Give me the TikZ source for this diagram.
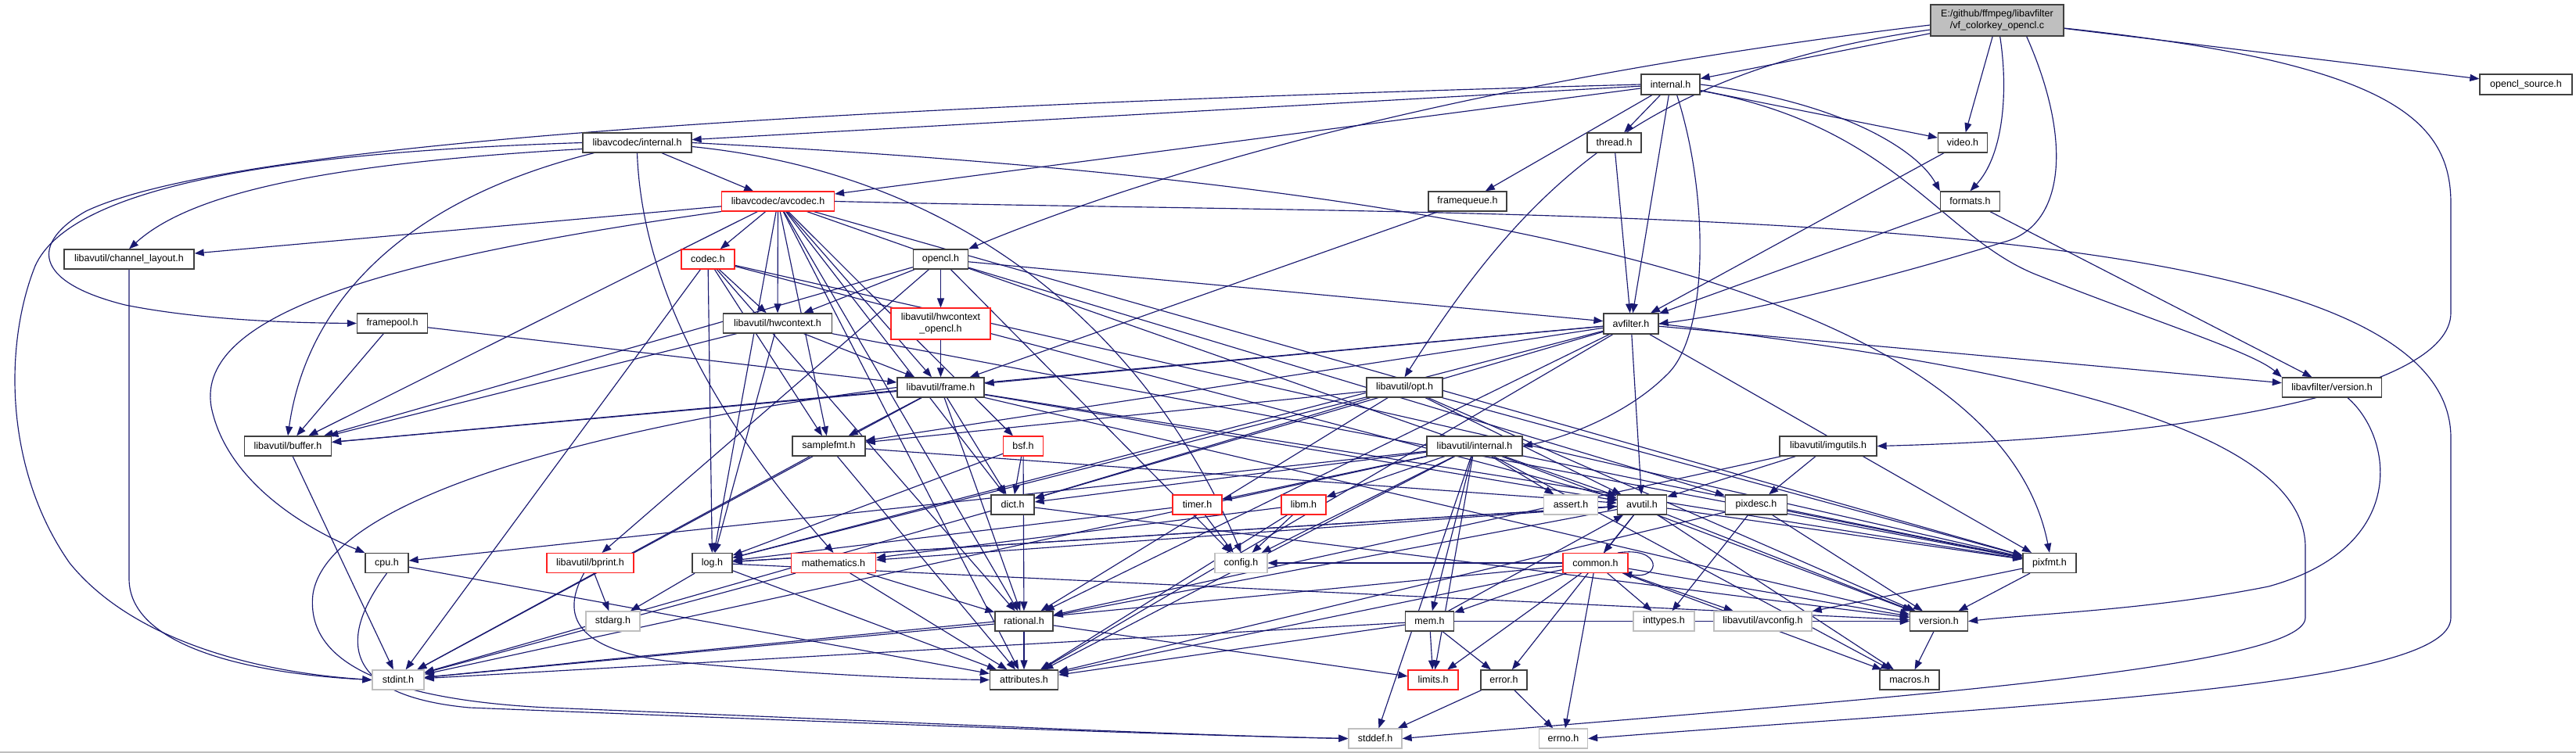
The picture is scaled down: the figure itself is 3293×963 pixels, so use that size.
\documentclass[tikz,border=0pt]{standalone}
\usepackage{fontspec}
\setmainfont{Liberation Sans}
\usetikzlibrary{arrows.meta}
\definecolor{edgec}{HTML}{191970}
\definecolor{redb}{HTML}{FF2020}
\definecolor{grayb}{HTML}{BFBFBF}
\definecolor{darkb}{HTML}{404040}
\definecolor{mainfill}{HTML}{BFBFBF}
\pgfdeclarelayer{bg}
\pgfsetlayers{bg,main}
\begin{document}
\begin{tikzpicture}[x=1pt,y=-1pt,
  nd/.style={draw=darkb,line width=1.3pt,fill=white,inner sep=0pt,font=\fontsize{12.5}{15}\selectfont,minimum height=25pt,text=black,align=center},
  rd/.style={nd,draw=redb,line width=1.1pt},
  gr/.style={nd,draw=grayb},
  e/.style={draw=edgec,line width=1.15pt,-{Triangle[length=12pt,width=9pt]}},
]
\useasboundingbox (0,0) rectangle (3293,963);
% nodes
\node[nd,fill=mainfill,minimum width=170pt,minimum height=40pt] (main) at (2553,26) {E:/github/ffmpeg/libavfilter\\/vf\_colorkey\_opencl.c};
\node[nd,minimum width=75pt,minimum height=26pt] (lfint) at (2135.5,108) {internal.h};
\node[nd,minimum width=118pt,minimum height=26pt] (oclsrc) at (3229,108) {opencl\_source.h};
\node[nd,minimum width=139pt] (lcint) at (814.5,182.5) {libavcodec/internal.h};
\node[nd,minimum width=63pt] (video) at (2509,182.5) {video.h};
\node[nd,minimum width=69pt] (thread) at (2063.5,182.5) {thread.h};
\node[rd,minimum width=144pt] (avcodec) at (994.5,257.5) {libavcodec/avcodec.h};
\node[nd,minimum width=100pt] (fqueue) at (1876,257.5) {framequeue.h};
\node[nd,minimum width=76pt] (formats) at (2518.5,257.5) {formats.h};
\node[nd,minimum width=166pt] (chlayout) at (165,331.5) {libavutil/channel\_layout.h};
\node[rd,minimum width=68pt] (codec) at (905,331.5) {codec.h};
\node[nd,minimum width=70pt] (opencl) at (1202.5,331.5) {opencl.h};
\node[nd,minimum width=70pt,minimum height=26pt] (avfilter) at (2085,414) {avfilter.h};
\node[nd,minimum width=90pt] (fpool) at (501.5,413.5) {framepool.h};
\node[nd,minimum width=139pt] (hwctx) at (994,413.5) {libavutil/hwcontext.h};
\node[rd,minimum width=127pt,minimum height=40pt] (hwocl) at (1202.5,414) {libavutil/hwcontext\\\_opencl.h};
\node[nd,minimum width=127pt] (lfver) at (2981,495.5) {libavfilter/version.h};
\node[nd,minimum width=111pt] (frame) at (1202.5,495.5) {libavutil/frame.h};
\node[nd,minimum width=97pt] (opt) at (1795.5,495.5) {libavutil/opt.h};
\node[nd,minimum width=111pt] (buffer) at (368,570.5) {libavutil/buffer.h};
\node[nd,minimum width=93pt] (samplefmt) at (1059.5,570.5) {samplefmt.h};
\node[rd,minimum width=51pt] (bsf) at (1308,570.5) {bsf.h};
\node[nd,minimum width=122pt] (luint) at (1885,570.5) {libavutil/internal.h};
\node[nd,minimum width=124pt] (imgutils) at (2337,570.5) {libavutil/imgutils.h};
\node[nd,minimum width=55pt] (dict) at (1294.5,645.5) {dict.h};
\node[rd,minimum width=63pt] (timer) at (1530.5,645.5) {timer.h};
\node[rd,minimum width=57pt] (libm) at (1666.5,645.5) {libm.h};
\node[gr,minimum width=69pt] (assert) at (2008,645.5) {assert.h};
\node[nd,minimum width=63pt] (avutil) at (2099,645.5) {avutil.h};
\node[nd,minimum width=79pt] (pixdesc) at (2245,645.5) {pixdesc.h};
\node[nd,minimum width=55pt] (cpu) at (494.5,720) {cpu.h};
\node[rd,minimum width=111pt] (bprint) at (754.5,720) {libavutil/bprint.h};
\node[nd,minimum width=51pt] (log) at (910.5,720) {log.h};
\node[rd,minimum width=108pt] (math) at (1065.5,720) {mathematics.h};
\node[gr,minimum width=67pt] (config) at (1586.5,720) {config.h};
\node[rd,minimum width=83pt] (common) at (2039.5,720) {common.h};
\node[nd,minimum width=68pt] (pixfmt) at (2620,720) {pixfmt.h};
\node[gr,minimum width=69pt] (stdarg) at (783.5,794.5) {stdarg.h};
\node[nd,minimum width=74pt] (rational) at (1309,794.5) {rational.h};
\node[nd,minimum width=62pt] (mem) at (1827.5,794.5) {mem.h};
\node[gr,minimum width=78pt] (inttypes) at (2127,794.5) {inttypes.h};
\node[gr,minimum width=125pt] (avconfig) at (2253.5,794.5) {libavutil/avconfig.h};
\node[nd,minimum width=74pt] (version) at (2478.5,794.5) {version.h};
\node[gr,minimum width=66pt] (stdint) at (509,869.5) {stdint.h};
\node[nd,minimum width=87pt] (attributes) at (1309,869.5) {attributes.h};
\node[rd,minimum width=64pt] (limits) at (1832,869.5) {limits.h};
\node[nd,minimum width=59pt] (error) at (1922.5,869.5) {error.h};
\node[nd,minimum width=76pt] (macros) at (2441,869.5) {macros.h};
\node[gr,minimum width=68pt] (stddef) at (1758,944.5) {stddef.h};
\node[gr,minimum width=62pt] (errno) at (1998.5,944.5) {errno.h};

\begin{pgfonlayer}{bg}
\fill[white] (0,0) rectangle (3293,963);
\draw[grayb,line width=1.5pt] (0,962) -- (3293,962);
% straight connectors
\foreach \a/\b in {main/lfint, main/oclsrc, main/video,
 lfint/lcint, lfint/avcodec, lfint/thread, lfint/fqueue, lfint/avfilter, lfint/video,
 lcint/avcodec, thread/avfilter, video/avfilter, formats/avfilter, formats/lfver,
 fqueue/frame, fpool/buffer, fpool/frame,
 opencl/config, opencl/bprint, opencl/buffer, opencl/hwctx, opencl/hwocl, opencl/pixdesc, opencl/avfilter,
 hwocl/frame, hwctx/buffer, hwctx/frame, hwctx/log, hwctx/pixfmt,
 avcodec/samplefmt, avcodec/attributes, avcodec/avutil, avcodec/buffer, avcodec/chlayout, avcodec/dict,
 avcodec/frame, avcodec/hwctx, avcodec/log, avcodec/pixfmt, avcodec/rational, avcodec/bsf, avcodec/codec,
 codec/stdint, codec/avutil, codec/hwctx, codec/log, codec/pixfmt, codec/rational, codec/samplefmt,
 bsf/dict, bsf/log, bsf/rational,
 frame/stdint, frame/avutil, frame/buffer, frame/dict, frame/rational, frame/samplefmt, frame/pixfmt, frame/version,
 buffer/stdint, samplefmt/stdint, samplefmt/avutil, samplefmt/attributes, dict/stdint, dict/version,
 opt/rational, opt/avutil, opt/dict, opt/log, opt/pixfmt, opt/samplefmt, opt/version,
 avfilter/attributes, avfilter/avutil, avfilter/buffer, avfilter/dict, avfilter/frame, avfilter/log,
 avfilter/samplefmt, avfilter/pixfmt, avfilter/rational, avfilter/lfver,
 luint/limits, luint/stdint, luint/stddef, luint/assert, luint/config, luint/attributes, luint/timer,
 luint/cpu, luint/dict, luint/macros, luint/mem, luint/pixfmt, luint/version, luint/libm,
 imgutils/avutil, imgutils/pixdesc, imgutils/rational,
 pixdesc/inttypes, pixdesc/attributes, pixdesc/pixfmt, pixdesc/version,
 timer/config, timer/log, libm/attributes, libm/config, libm/math, cpu/attributes, bprint/stdarg,
 log/stdarg, log/avutil, log/attributes, log/version,
 math/stdint, math/attributes, math/rational,
 avutil/common, avutil/error, avutil/rational, avutil/version, avutil/macros, avutil/math, avutil/log, avutil/pixfmt,
 common/errno, common/inttypes, common/limits, common/stdint, common/attributes, common/macros,
 common/version, common/avconfig, common/config, common/mem,
 mem/limits, mem/stdint, mem/attributes, mem/error, mem/avutil, mem/version,
 error/errno, error/stddef, rational/stdint, rational/limits, rational/attributes,
 pixfmt/avconfig, pixfmt/version, version/macros}
 \draw[e] (\a) -- (\b);
% curved connectors
\draw[e] (main.south east) ++(-48,0) .. controls (2650,180) and (2640,290) .. (2560,310) .. controls (2400,360) and (2230,400) .. (avfilter.east);
\draw[e] (main.south east) ++(-82,0) .. controls (2568,120) and (2560,200) .. (formats.north);
\draw[e] (main.west) ++(0,12) .. controls (2100,90) and (1950,240) .. (opt.north);
\draw[e] (main.west) ++(0,6) .. controls (1900,100) and (1500,210) .. (opencl.north east);
\draw[e] (main.east) ++(0,10) .. controls (3050,80) and (3133,150) .. (3133,260) -- (3133,400) .. controls (3133,500) and (2800,560) .. (imgutils.east);
\draw[e] (lfint.west) .. controls (1100,135) and (300,180) .. (110,270) .. controls (40,310) and (40,360) .. (160,390) .. controls (260,410) and (380,413) .. (fpool.west);
\draw[e] (lfint.south east) ++(-30,0) .. controls (2185,250) and (2185,430) .. (2130,480) .. controls (2080,530) and (2000,560) .. (luint.east);
\draw[e] (lfint.east) .. controls (2350,130) and (2450,190) .. (formats.north west);
\draw[e] (lfint.east) ++(0,8) .. controls (2420,160) and (2480,300) .. (2600,350) .. controls (2750,410) and (2880,450) .. (lfver.north west);
\draw[e] (lcint.west) .. controls (350,195) and (90,240) .. (45,340) .. controls (5,440) and (5,600) .. (89,720) .. controls (170,820) and (330,860) .. (stdint.west);
\draw[e] (lcint.west) ++(0,8) .. controls (400,210) and (240,250) .. (chlayout.north);
\draw[e] (lcint.south west) ++(15,0) .. controls (500,260) and (390,400) .. (buffer.north);
\draw[e] (lcint.south) .. controls (820,350) and (900,520) .. (math.north);
\draw[e] (lcint.east) .. controls (1800,230) and (2550,350) .. (pixfmt.north);
\draw[e] (lcint.east) ++(0,5) .. controls (1300,230) and (1500,500) .. (config.north);
\draw[e] (chlayout.south) -- (165,740) .. controls (165,830) and (330,862) .. (stdint.west);
\draw[e] (avcodec.east) .. controls (2000,280) and (3133,250) .. (3133,560) -- (3133,790) .. controls (3133,880) and (2600,900) .. (errno.east);
\draw[e] (avcodec.south west) .. controls (500,330) and (250,400) .. (270,520) .. controls (290,620) and (400,680) .. (cpu.north west);
\draw[e] (avfilter.east) .. controls (2500,460) and (2947,530) .. (2947,700) -- (2947,790) .. controls (2947,860) and (2300,900) .. (stddef.east);
\draw[e] (frame.west) .. controls (800,540) and (420,630) .. (400,760) .. controls (390,850) and (500,895) .. (700,905) .. controls (1200,925) and (1500,940) .. (stddef.west);
\draw[e] (cpu.south) .. controls (430,820) and (440,890) .. (600,905) .. controls (1100,925) and (1500,940) .. (stddef.west);
\draw[e] (lfver.south) ++(20,0) .. controls (3060,560) and (3080,700) .. (2900,750) .. controls (2750,780) and (2600,785) .. (version.east);
\draw[e] (bprint.south) ++(-8,0) .. controls (715,790) and (740,830) .. (850,845) .. controls (1000,860) and (1150,868) .. (attributes.west);
\draw[e] (2068,707) .. controls (2125,698) and (2125,742) .. (2074,733);
\end{pgfonlayer}
\end{tikzpicture}
\end{document}
